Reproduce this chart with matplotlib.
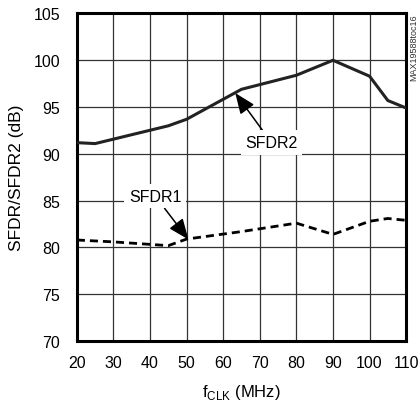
import numpy as np
import matplotlib.pyplot as plt

# data
fclk2 = [20, 25, 45, 50, 65, 80, 90, 100, 105, 110]
sfdr2 = [91.2, 91.1, 93.0, 93.7, 96.9, 98.4, 100.0, 98.3, 95.7, 94.9]
fclk1 = [20, 30, 45, 50, 65, 80, 90, 100, 105, 110]
sfdr1 = [80.8, 80.6, 80.2, 80.9, 81.7, 82.6, 81.4, 82.8, 83.1, 82.9]
xticks = np.arange(20, 111, 10)
yticks = np.arange(70, 106, 5)

plt.rcParams["font.family"] = ["Liberation Sans", "DejaVu Sans"]

fig = plt.figure(figsize=(4.2, 4.02), dpi=100)
ax = fig.add_axes([0.183, 0.149, 0.784, 0.815])

ax.plot(fclk2, sfdr2, color="#222222", lw=2.2, solid_joinstyle="miter", zorder=3)
ax.plot(fclk1, sfdr1, color="black", lw=2.0, dashes=(2.9, 1.8), zorder=3)

ax.set_xlim(20, 110)
ax.set_ylim(70, 105)
ax.set_xticks(xticks)
ax.set_yticks(yticks)
ax.grid(True, color="#333333", lw=0.9)
ax.tick_params(axis="x", length=0, labelsize=11.5, pad=10)
ax.tick_params(axis="y", length=0, labelsize=11.5, pad=12)
for s in ax.spines.values():
    s.set_linewidth(2.2)

ax.set_xlabel("f$_{\\mathregular{CLK}}$ (MHz)", fontsize=12, labelpad=9)
ax.set_ylabel("SFDR/SFDR2 (dB)", fontsize=12.5, labelpad=7)

box = dict(boxstyle="square,pad=0.3", fc="white", ec="none")
arrow = dict(arrowstyle="-|>,head_length=1.1,head_width=0.45", color="black", lw=1.1, shrinkA=0, shrinkB=0)
ax.annotate("SFDR2", xy=(63.3, 96.5), xytext=(73.2, 91.2), ha="center", va="center",
            fontsize=11.5, bbox=box, arrowprops=arrow, zorder=4)
ax.annotate("SFDR1", xy=(50.5, 80.85), xytext=(41.4, 85.5), ha="center", va="center",
            fontsize=11.5, bbox=box, arrowprops=arrow, zorder=4)

fig.text(0.985, 0.965, "MAX19588toc16", rotation=90, ha="center", va="top",
         fontsize=6.5, color="#333333")

fig.savefig("out.png", dpi=100)
